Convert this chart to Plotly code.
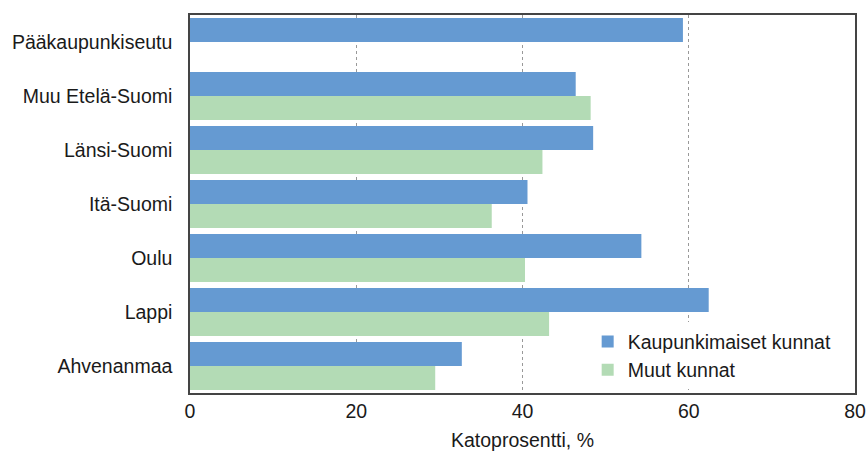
import plotly.graph_objects as go

regions = ["Pääkaupunkiseutu", "Muu Etelä-Suomi", "Länsi-Suomi", "Itä-Suomi", "Oulu", "Lappi", "Ahvenanmaa"]
kaupunkimaiset = [59.3, 46.4, 48.5, 40.6, 54.3, 62.4, 32.7]
muut = [None, 48.2, 42.4, 36.3, 40.3, 43.2, 29.5]
x_ticks = [0, 20, 40, 60, 80]

font_family = "Liberation Sans"
txt = "#1a1a1a"
fs = 19.5

fig = go.Figure()
fig.add_trace(go.Bar(y=regions, x=kaupunkimaiset, orientation="h", name="Kaupunkimaiset kunnat",
                     marker=dict(color="#659AD2", line=dict(width=0))))
fig.add_trace(go.Bar(y=regions, x=muut, orientation="h", name="Muut kunnat",
                     marker=dict(color="#B3DBB5", line=dict(width=0))))

fig.update_layout(
    width=867, height=453,
    margin=dict(l=190, r=12, t=15, b=60),
    paper_bgcolor="white", plot_bgcolor="white",
    barmode="group", bargap=0.11, bargroupgap=0,
    font=dict(family=font_family, size=fs, color=txt),
    legend=dict(x=0.598, y=0.01, xanchor="left", yanchor="bottom",
                bgcolor="white", borderwidth=0, traceorder="normal",
                font=dict(size=fs, color=txt), itemsizing="constant",
                tracegroupgap=0),
    showlegend=True,
)
fig.update_xaxes(range=[0, 80], tickvals=x_ticks, ticktext=[str(v) for v in x_ticks],
                 showgrid=True, gridcolor="#999999", griddash="dot", gridwidth=1,
                 showline=True, linecolor="#444444", linewidth=1.5, mirror=True,
                 ticks="", zeroline=False, automargin=False,
                 title=dict(text="Katoprosentti, %", font=dict(size=fs, color=txt), standoff=12),
                 tickfont=dict(size=fs, color=txt))
fig.update_yaxes(autorange="reversed", showline=True, linecolor="#444444", linewidth=1.5, mirror=True,
                 ticks="", showgrid=False, ticklabelstandoff=12, automargin=False,
                 tickfont=dict(size=fs, color=txt))

fig.write_html("out.html",
               config={"displayModeBar": False},
               post_script="document.body.style.margin='0px';document.body.style.overflow='hidden';")
